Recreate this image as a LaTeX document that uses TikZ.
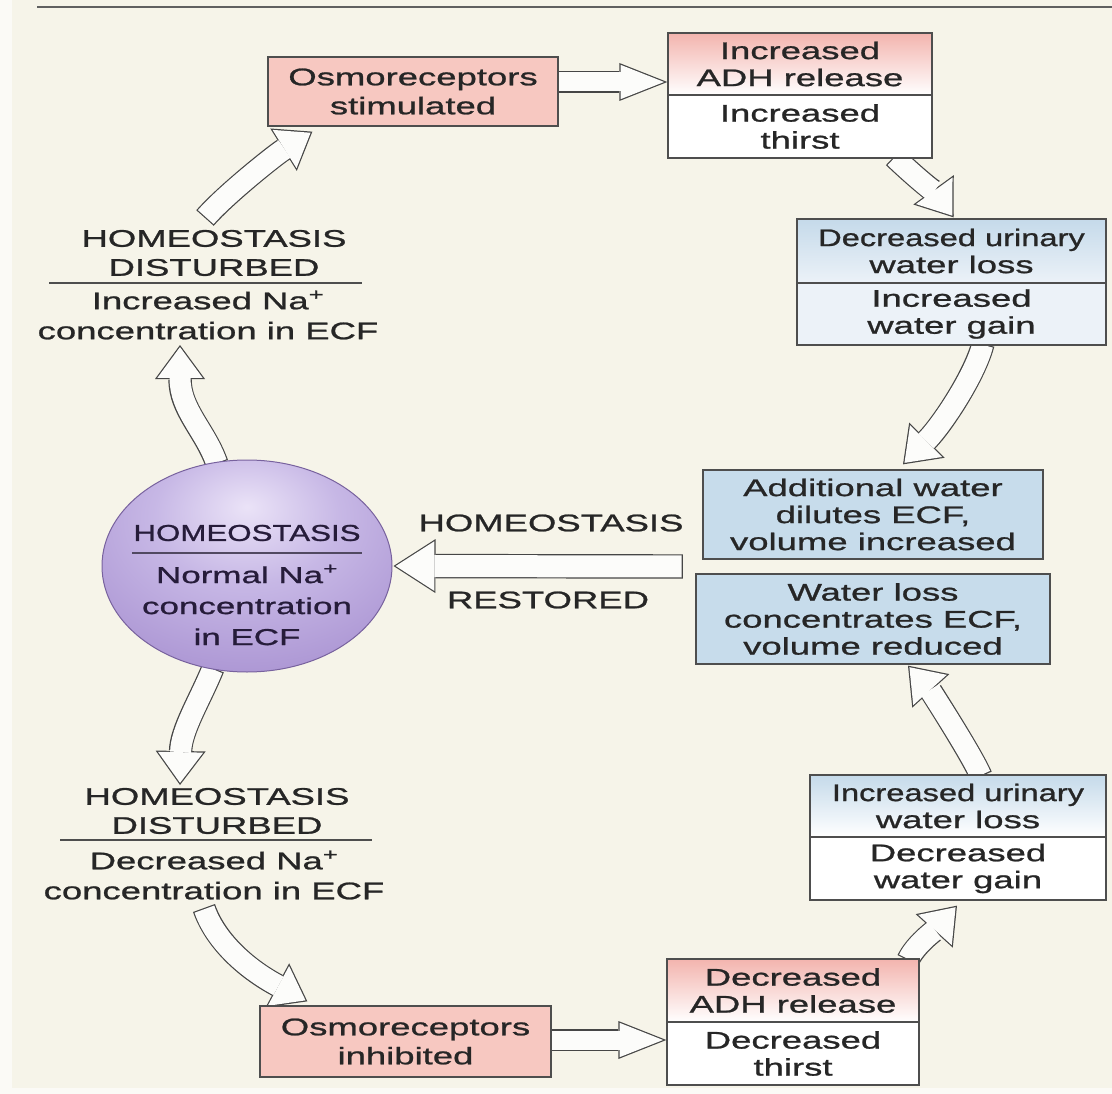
\documentclass[tikz,border=0pt]{standalone}
\usepackage{fontspec}
\setmainfont{Liberation Sans}[FakeStretch=1.52,FakeBold=1]
\newfontfamily\condfont{Liberation Sans}[FakeStretch=1.36,FakeBold=1]
\usetikzlibrary{shapes.geometric,arrows.meta,calc}
\pgfdeclarelayer{back}
\pgfdeclarelayer{arrowlayer}
\pgfsetlayers{back,arrowlayer,main}
\definecolor{bgcream}{RGB}{246,244,233}
\definecolor{stripwhite}{RGB}{251,250,246}
\definecolor{edgegray}{RGB}{78,78,78}
\definecolor{pinkbox}{RGB}{247,200,193}
\definecolor{pinktop}{RGB}{243,180,174}
\definecolor{bluebox}{RGB}{199,220,235}
\definecolor{bluetop}{RGB}{197,218,234}
\definecolor{bluebot}{RGB}{236,242,248}
\definecolor{txt}{RGB}{38,38,38}
\definecolor{circtxt}{RGB}{38,28,58}
\definecolor{circedge}{RGB}{120,98,158}
\definecolor{arrowfill}{RGB}{252,252,250}
\definecolor{arrowedge}{RGB}{70,70,70}
\pgfdeclareradialshading{purpball}{\pgfpoint{0bp}{14bp}}{%
  rgb(0bp)=(0.92,0.89,0.97);
  rgb(16bp)=(0.78,0.72,0.90);
  rgb(38bp)=(0.66,0.57,0.82);
  rgb(50bp)=(0.58,0.48,0.76);
  rgb(100bp)=(0.58,0.48,0.76)}
\tikzset{
  base/.style={font=\fontsize{24}{27}\selectfont, text=txt, align=center, inner sep=0pt},
  box/.style={base, draw=edgegray, line width=1.3pt, rectangle},
  rule/.style={line width=1.2pt, draw=edgegray},
  curveedge/.style={draw=arrowedge, line width=23.4pt, -{Triangle[length=34pt 0,width=50pt 0,line width=0pt]}},
  curvefill/.style={draw=arrowfill, line width=21pt, shorten <=1.2pt, shorten >=2.1pt, -{Triangle[length=30.7pt 0,width=45.2pt 0,line width=0pt]}},
  horzedge/.style={draw=arrowedge, line width=21.4pt, -{Triangle[length=48pt 0,width=38pt 0,line width=0pt]}},
  horzfill/.style={draw=arrowfill, line width=19pt, shorten <=1.2pt, shorten >=3.3pt, -{Triangle[length=43.5pt 0,width=34.4pt 0,line width=0pt]}},
  bigedge/.style={draw=arrowedge, line width=24.4pt, -{Triangle[length=42pt 0,width=54pt 0,line width=0pt]}},
  bigfill/.style={draw=arrowfill, line width=22pt, shorten <=1.2pt, shorten >=2.2pt, -{Triangle[length=38.6pt 0,width=49.6pt 0,line width=0pt]}},
}
\newcommand{\barrow}[2]{\draw[#1edge] #2; \draw[#1fill] #2;}
\begin{document}
\begin{tikzpicture}[x=1pt,y=-1pt]
\useasboundingbox (0,0) rectangle (1112,1094);
\begin{pgfonlayer}{back}
  \fill[bgcream] (0,0) rectangle (1112,1094);
  \fill[stripwhite] (0,0) rectangle (12,1094);
  \fill[stripwhite] (0,1088) rectangle (1112,1094);
\end{pgfonlayer}
\draw[line width=1.6pt, draw=edgegray!90] (37,7) -- (1112,7);

% boxes
\node[box, fill=pinkbox, minimum width=290pt, minimum height=69pt, font=\fontsize{24}{29}\selectfont] (osmS) at (413,91.5) {Osmoreceptors\\stimulated};
\node[box, top color=pinktop, bottom color=white, minimum width=264pt, minimum height=62pt] (adhT) at (800,64) {Increased\\ADH release};
\node[box, fill=white, minimum width=264pt, minimum height=63pt] (adhB) at (800,126.5) {Increased\\thirst};
\node[box, top color=bluetop, bottom color=bluebot, minimum width=309pt, minimum height=64pt] (durT) at (951.5,251) {{\condfont Decreased urinary}\\water loss};
\node[box, fill=bluebot, minimum width=309pt, minimum height=62pt] (durB) at (951.5,314) {Increased\\water gain};
\node[box, fill=bluebox, minimum width=340pt, minimum height=89pt] (addw) at (873,514.5) {Additional water\\dilutes ECF,\\volume increased};
\node[box, fill=bluebox, minimum width=354pt, minimum height=90pt] (wlos) at (873,619) {Water loss\\concentrates ECF,\\volume reduced};
\node[box, top color=bluetop, bottom color=white, minimum width=296pt, minimum height=62pt] (iurT) at (958,806) {{\condfont Increased urinary}\\water loss};
\node[box, fill=white, minimum width=296pt, minimum height=63pt] (iurB) at (958,868.5) {Decreased\\water gain};
\node[box, top color=pinktop, bottom color=white, minimum width=252pt, minimum height=63pt] (dadhT) at (793,990.5) {Decreased\\ADH release};
\node[box, fill=white, minimum width=252pt, minimum height=63pt] (dadhB) at (793,1053.5) {Decreased\\thirst};
\node[box, fill=pinkbox, minimum width=291pt, minimum height=71pt, font=\fontsize{24}{29}\selectfont] (osmI) at (405.5,1041.5) {Osmoreceptors\\inhibited};

% central homeostasis ellipse
\node[ellipse, draw=circedge, line width=1pt, shade, shading=purpball, minimum width=290pt, minimum height=212pt, inner sep=0pt] (circ) at (247,566) {};
\node[base, text=circtxt, font=\condfont\fontsize{23}{27}\selectfont] (cH) at (247,533) {HOMEOSTASIS};
\draw[line width=1.2pt, draw=circtxt!80] (132,553) -- (362,553);
\node[base, text=circtxt, font=\fontsize{23}{31}\selectfont] (cN) at (247,605) {Normal Na\textsuperscript{+}\\concentration\\in ECF};

% disturbed labels
\node[base, font=\fontsize{24}{29}\selectfont] (hdU) at (214,253) {HOMEOSTASIS\\DISTURBED};
\draw[rule] (49,283) -- (362,283);
\node[base, font=\fontsize{24}{30}\selectfont] (naU) at (208,315) {Increased Na\textsuperscript{+}\\concentration in ECF};
\node[base, font=\fontsize{24}{29}\selectfont] (hdL) at (217,811) {HOMEOSTASIS\\DISTURBED};
\draw[rule] (60,840) -- (372,840);
\node[base, font=\fontsize{24}{30}\selectfont] (naL) at (214,875) {Decreased Na\textsuperscript{+}\\concentration in ECF};

% restored labels
\node[base] (hsR) at (551,523) {HOMEOSTASIS};
\node[base] (rsR) at (548,600) {RESTORED};

% block arrows
\begin{pgfonlayer}{arrowlayer}
\barrow{curve}{($(hdU.center)+(-9,-35)$) .. controls (225,195) and (275,155) .. ($(osmS.south west)+(45,5)$)}
\barrow{horz}{($(osmS.east)+(-2,-9.5)$) -- ($(adhT.west)+(0,18)$)}
\barrow{curve}{($(adhB.south)+(94,-2)$) .. controls (912,174) and (938,196) .. ($(durT.north)+(2,-1)$)}
\barrow{curve}{($(durB.south)+(31.5,-2)$) .. controls (975,375) and (942,425) .. ($(addw.north)+(30,-5)$)}
\barrow{big}{($(addw.south west)!0.5!(wlos.north west)+(-16,0)$) -- ($(circ.east)+(1,0)$)}
\barrow{curve}{($(iurT.north)+(23,2)$) .. controls (972,755) and (930,690) .. ($(wlos.south)+(35,1)$)}
\barrow{curve}{($(circ.center)+(-34,102)$) .. controls (200,700) and (181,730) .. ($(hdL.center)+(-37,-26)$)}
\barrow{curve}{($(circ.center)+(-30,-102)$) .. controls (205,430) and (180,410) .. ($(naU.center)+(-28,30)$)}
\barrow{curve}{($(naL.center)+(-10,33)$) .. controls (215,940) and (245,968) .. ($(osmI.north west)+(48,-4)$)}
\barrow{horz}{($(osmI.east)+(-2,-1.5)$) -- ($(dadhB.west)+(0,-13.5)$)}
\barrow{curve}{($(dadhT.north)+(115,2)$) .. controls (915,945) and (935,930) .. ($(iurB.south)+(-1,5)$)}
\end{pgfonlayer}
\end{tikzpicture}
\end{document}
